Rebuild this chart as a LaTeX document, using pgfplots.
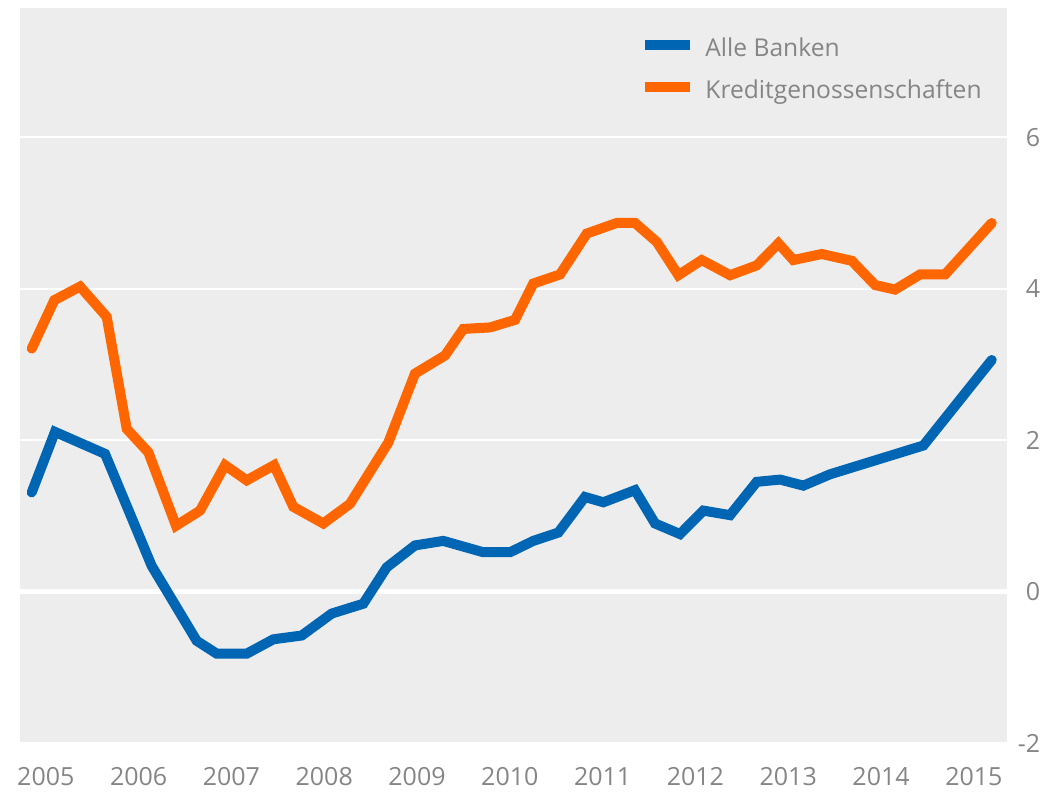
\documentclass[border=0pt]{standalone}
\usepackage{fontspec}
\setmainfont{Open Sans}
\usepackage{pgfplots}
\pgfplotsset{compat=1.18}
\definecolor{dbblue}{HTML}{0066B3}
\definecolor{dborange}{HTML}{FF6600}
\definecolor{panel}{HTML}{EDEDED}
\definecolor{ticktext}{HTML}{858585}

\begin{document}
\begin{tikzpicture}
\begin{axis}[
  scale only axis,
  width=493.25bp, height=367.5bp,
  xmin=2004.722, xmax=2015.352,
  ymin=-2, ymax=7.71,
  axis background/.style={fill=panel},
  axis line style={draw=none},
  major tick length=0pt,
  xtick={2005,2006,2007,2008,2009,2010,2011,2012,2013,2014,2015},
  xticklabels={2005,2006,2007,2008,2009,2010,2011,2012,2013,2014,2015},
  ytick={-2,2,4,6},
  extra y ticks={0},
  extra y tick style={grid style={white, line width=2.5bp}},
  yticklabel pos=right,
  ymajorgrids,
  grid style={white, line width=1bp},
  /pgf/number format/assume math mode=true,
  tick label style={font=\fontsize{12.5bp}{15bp}\selectfont, text=ticktext, inner sep=0pt},
  xticklabel style={anchor=center, yshift=-17bp},
  yticklabel style={anchor=east, xshift=17bp},
  legend style={draw=none, fill=none, at={(0.6285,0.970)}, anchor=north west,
    inner sep=0pt, row sep=6bp, column sep=5bp,
    nodes={inner sep=0pt, text height=13bp, text depth=2bp, text=ticktext,
      font=\fontsize{12.3bp}{15bp}\selectfont}},
  legend cell align=left,
  legend image code/.code={\draw[#1, line width=5bp, line cap=butt] (0bp,0bp) -- (22.5bp,0bp);},
]
\addplot[dbblue, line width=5bp, line cap=round] coordinates {
(2004.848,1.31) (2005.099,2.11) (2005.638,1.82) (2006.141,0.34) (2006.626,-0.65)
(2006.842,-0.82) (2007.165,-0.82) (2007.452,-0.63) (2007.758,-0.58) (2008.081,-0.29)
(2008.421,-0.16) (2008.673,0.32) (2008.978,0.61) (2009.283,0.67) (2009.714,0.52)
(2010.002,0.52) (2010.253,0.67) (2010.523,0.78) (2010.810,1.25) (2011.008,1.18)
(2011.349,1.34) (2011.565,0.90) (2011.834,0.76) (2012.085,1.07) (2012.373,1.01)
(2012.661,1.45) (2012.912,1.48) (2013.163,1.40) (2013.451,1.55) (2014.456,1.93)
(2015.193,3.06)
};
\addlegendentry{Alle Banken}
\addplot[dborange, line width=5bp, line cap=round] coordinates {
(2004.848,3.21) (2005.092,3.85) (2005.369,4.03) (2005.656,3.63) (2005.872,2.15)
(2006.105,1.84) (2006.403,0.87) (2006.662,1.07) (2006.931,1.67) (2007.165,1.47)
(2007.459,1.67) (2007.667,1.12) (2007.990,0.90) (2008.278,1.16) (2008.691,1.97)
(2008.978,2.88) (2009.302,3.12) (2009.499,3.47) (2009.787,3.49) (2010.056,3.59)
(2010.253,4.07) (2010.541,4.19) (2010.829,4.73) (2011.152,4.87) (2011.349,4.87)
(2011.583,4.62) (2011.816,4.18) (2012.068,4.38) (2012.373,4.18) (2012.661,4.31)
(2012.894,4.60) (2013.055,4.38) (2013.361,4.46) (2013.685,4.37) (2013.936,4.05)
(2014.151,3.99) (2014.421,4.19) (2014.690,4.19) (2015.193,4.87)
};
\addlegendentry{Kreditgenossenschaften}
\end{axis}
\path (current axis.south west) ++(-10bp,-25.5bp)
  rectangle ([xshift=27.75bp,yshift=4bp]current axis.north east);
\end{tikzpicture}
\end{document}
